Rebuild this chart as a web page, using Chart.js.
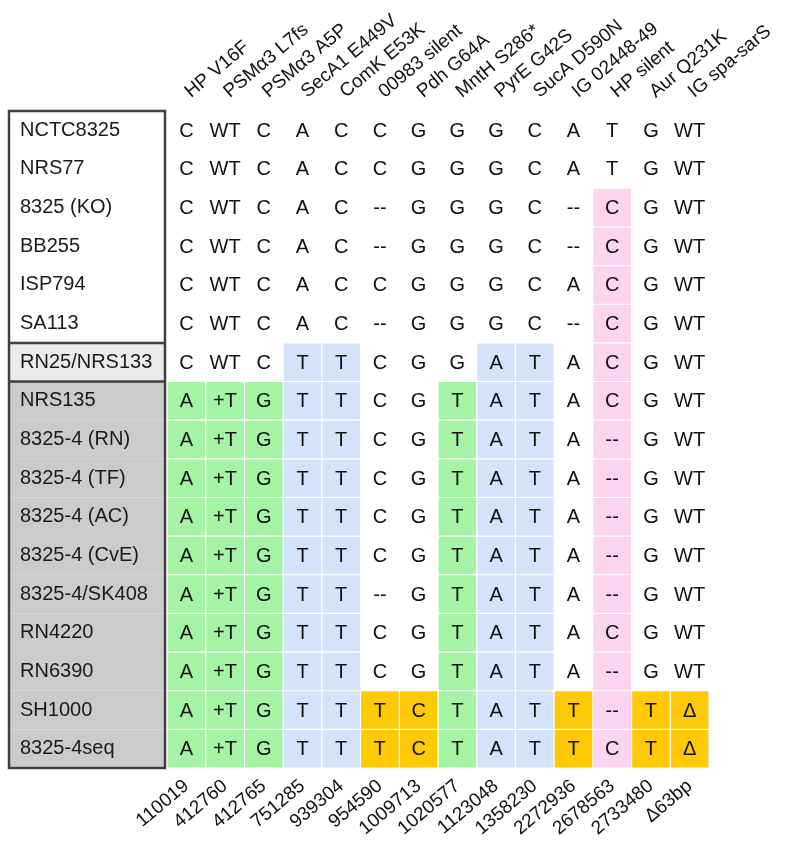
<!DOCTYPE html>
<html>
<head>
<meta charset="utf-8">
<script src="https://cdn.jsdelivr.net/npm/chart.js@4.4.1/dist/chart.umd.min.js"></script>
<style>
  html, body { margin: 0; padding: 0; background: #fff; }
</style>
</head>
<body>
<canvas id="snps" width="787" height="851"></canvas>
<script>
// mutation names (top) and genome positions (bottom)
const mutations = ['HP V16F', 'PSMα3 L7fs', 'PSMα3 A5P', 'SecA1 E449V', 'ComK E53K', '00983 silent',
  'Pdh G64A', 'MntH S286*', 'PyrE G42S', 'SucA D590N', 'IG 02448-49', 'HP silent', 'Aur Q231K', 'IG spa-sarS'];
const positions = ['110019', '412760', '412765', '751285', '939304', '954590', '1009713', '1020577',
  '1123048', '1358230', '2272936', '2678563', '2733480', 'Δ63bp'];

const strains = ['NCTC8325', 'NRS77', '8325 (KO)', 'BB255', 'ISP794', 'SA113', 'RN25/NRS133', 'NRS135',
  '8325-4 (RN)', '8325-4 (TF)', '8325-4 (AC)', '8325-4 (CvE)', '8325-4/SK408', 'RN4220', 'RN6390',
  'SH1000', '8325-4seq'];
// 0 = parent, 1 = RN25/NRS133, 2 = 8325-4 lineage
const strainGroup = [0, 0, 0, 0, 0, 0, 1, 2, 2, 2, 2, 2, 2, 2, 2, 2, 2];

// base call per strain, one entry per mutation
const calls = [
  'C WT C A C C G G G C A T G WT',
  'C WT C A C C G G G C A T G WT',
  'C WT C A C -- G G G C -- C G WT',
  'C WT C A C -- G G G C -- C G WT',
  'C WT C A C C G G G C A C G WT',
  'C WT C A C -- G G G C -- C G WT',
  'C WT C T T C G G A T A C G WT',
  'A +T G T T C G T A T A C G WT',
  'A +T G T T C G T A T A -- G WT',
  'A +T G T T C G T A T A -- G WT',
  'A +T G T T C G T A T A -- G WT',
  'A +T G T T C G T A T A -- G WT',
  'A +T G T T -- G T A T A -- G WT',
  'A +T G T T C G T A T A C G WT',
  'A +T G T T C G T A T A -- G WT',
  'A +T G T T T C T A T T -- T Δ',
  'A +T G T T T C T A T T C T Δ'
].map(r => r.split(' '));

// highlight class per cell: n none, g green, b blue, p pink, o orange
const highlight = [
  'nnnnnnnnnnnnnn',
  'nnnnnnnnnnnnnn',
  'nnnnnnnnnnnpnn',
  'nnnnnnnnnnnpnn',
  'nnnnnnnnnnnpnn',
  'nnnnnnnnnnnpnn',
  'nnnbbnnnbbnpnn',
  'gggbbnngbbnpnn',
  'gggbbnngbbnpnn',
  'gggbbnngbbnpnn',
  'gggbbnngbbnpnn',
  'gggbbnngbbnpnn',
  'gggbbnngbbnpnn',
  'gggbbnngbbnpnn',
  'gggbbnngbbnpnn',
  'gggbboogbbopoo',
  'gggbboogbbopoo'
];

const palette = { n: 'rgba(255,255,255,0)', g: '#a5f3a5', b: '#d5e3fa', p: '#fbd4f0', o: '#ffc906' };
const shade = ['#ffffff', '#ebebeb', '#cbcbcb'];
const FONT = 'Liberation Sans, Arial, sans-serif';

const cells = [];
strains.forEach((s, i) => {
  mutations.forEach((m, j) => {
    cells.push({ x: m, y: s, call: calls[i][j], grp: highlight[i][j] });
  });
});

function bandWidth(scale) {
  return Math.abs(scale.getPixelForValue(1) - scale.getPixelForValue(0));
}

// shaded strain column with its frame
const labelBox = {
  id: 'labelBox',
  beforeDraw(chart) {
    const { ctx, chartArea, scales: { y } } = chart;
    const half = bandWidth(y) / 2;
    const left = y.left - 11, right = chartArea.left - 2;
    ctx.save();
    strains.forEach((s, i) => {
      const c = y.getPixelForValue(i);
      ctx.fillStyle = shade[strainGroup[i]];
      ctx.fillRect(left, c - half, right - left, half * 2);
    });
    ctx.strokeStyle = '#404040';
    ctx.lineWidth = 2.5;
    const top = y.getPixelForValue(0) - half;
    const bottom = y.getPixelForValue(strains.length - 1) + half;
    ctx.strokeRect(left, top, right - left, bottom - top);
    [6, 7].forEach(i => {
      const yy = y.getPixelForValue(i) - half;
      ctx.beginPath();
      ctx.moveTo(left, yy);
      ctx.lineTo(right, yy);
      ctx.stroke();
    });
    ctx.restore();
  }
};

// base call text in each cell
const cellText = {
  id: 'cellText',
  afterDatasetsDraw(chart) {
    const { ctx } = chart;
    const meta = chart.getDatasetMeta(0);
    ctx.save();
    ctx.font = '20px ' + FONT;
    ctx.fillStyle = '#111';
    ctx.textAlign = 'center';
    ctx.textBaseline = 'middle';
    meta.data.forEach((pt, k) => {
      ctx.fillText(cells[k].call, pt.x, pt.y + 1);
    });
    ctx.restore();
  }
};

Chart.defaults.font.family = FONT;
Chart.defaults.font.size = 20;
Chart.defaults.color = '#111';

new Chart(document.getElementById('snps'), {
  type: 'scatter',
  data: {
    datasets: [{
      data: cells,
      xAxisID: 'x',
      yAxisID: 'y',
      pointStyle: 'rect',
      borderWidth: 0,
      backgroundColor: c => palette[c.raw.grp],
      pointRadius: c => (bandWidth(c.chart.scales.x) - 1.2) / Math.SQRT2,
      pointHoverRadius: c => (bandWidth(c.chart.scales.x) - 1.2) / Math.SQRT2
    }]
  },
  options: {
    responsive: false,
    animation: false,
    events: [],
    layout: { padding: { left: 20, right: 78, top: 0, bottom: 0 } },
    plugins: { legend: { display: false }, tooltip: { enabled: false } },
    scales: {
      x: {
        type: 'category',
        position: 'top',
        labels: mutations,
        offset: true,
        grid: { display: false, drawTicks: false },
        border: { display: false },
        ticks: { autoSkip: false, minRotation: 40, maxRotation: 40, padding: 8, labelOffset: 16, font: { size: 19 } },
        afterFit(s) { s.height = 111; s.paddingLeft = 0; s.paddingRight = 0; }
      },
      x2: {
        type: 'category',
        position: 'bottom',
        labels: positions,
        offset: true,
        grid: { display: false, drawTicks: false },
        border: { display: false },
        ticks: { autoSkip: false, minRotation: 40, maxRotation: 40, padding: 7, font: { size: 19 } },
        afterFit(s) { s.height = 83; s.paddingLeft = 0; s.paddingRight = 0; }
      },
      y: {
        type: 'category',
        labels: strains,
        offset: true,
        grid: { display: false, drawTicks: false },
        border: { display: false },
        ticks: { crossAlign: 'far', padding: 0, color: '#1a1a1a' },
        afterFit(s) { s.width = 147; }
      }
    }
  },
  plugins: [labelBox, cellText]
});
</script>
</body>
</html>
